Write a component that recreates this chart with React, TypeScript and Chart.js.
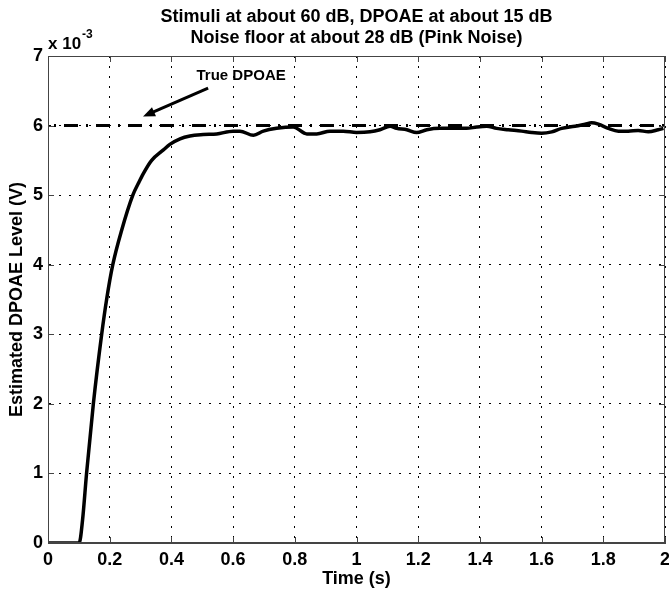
import React, { useEffect, useRef } from 'react';
import { Chart, registerables } from 'chart.js';

Chart.register(...registerables);

// ---- data (levels in units of 1e-3 V) ----
const timeS = [
  0, 0.05, 0.101, 0.112, 0.125, 0.147, 0.174, 0.19, 0.21, 0.239, 0.275, 0.293, 0.309, 0.336, 0.374, 0.395,
  0.428, 0.46, 0.503, 0.547, 0.6, 0.622, 0.666, 0.698, 0.741, 0.795, 0.839, 0.871, 0.914, 0.957, 1.0,
  1.044, 1.076, 1.109, 1.13, 1.163, 1.195, 1.228, 1.271, 1.314, 1.357, 1.39, 1.422, 1.454, 1.492, 1.535,
  1.568, 1.6, 1.633, 1.665, 1.708, 1.741, 1.762, 1.784, 1.816, 1.849, 1.881, 1.913, 1.946, 1.978, 1.995,
];
const levelMilli = [
  0, 0, 0, 0.33, 1, 2, 3, 3.5, 4, 4.5, 5, 5.17, 5.31, 5.5, 5.65, 5.73,
  5.81, 5.85, 5.87, 5.88, 5.92, 5.92, 5.86, 5.92, 5.96, 5.98, 5.88, 5.88, 5.92, 5.92, 5.9,
  5.91, 5.94, 5.99, 5.96, 5.94, 5.9, 5.94, 5.96, 5.96, 5.96, 5.98, 5.99, 5.96, 5.94, 5.92,
  5.9, 5.89, 5.91, 5.96, 5.99, 6.02, 6.04, 6.02, 5.96, 5.92, 5.92, 5.93, 5.91, 5.94, 5.96,
];
const trueLevel = 6;
const xRange = [0, 2];
const yRange = [0, 7];
const xStep = 0.2;
const yStep = 1;
const titleLines = [
  'Stimuli at about 60 dB, DPOAE at about 15 dB',
  'Noise floor at about 28 dB (Pink Noise)',
];
const xLabel = 'Time (s)';
const yLabel = 'Estimated DPOAE Level (V)';
const exponentBase = 'x 10';
const exponentPower = '-3';
const annotationText = 'True DPOAE';
const annotationTextAt = [0.626, 6.71];
const arrowFrom = [0.519, 6.54];
const arrowTo = [0.308, 6.13];

const FONT = '"Liberation Sans", Arial, Helvetica, sans-serif';

const matlabPlugin = {
  id: 'matlabDecor',
  afterDraw(chart: any) {
    const { ctx, chartArea: a, scales } = chart;
    const x = scales.x;
    const y = scales.y;
    ctx.save();
    // box
    ctx.strokeStyle = '#444';
    ctx.lineWidth = 1;
    ctx.strokeRect(Math.round(a.left) + 0.5, Math.round(a.top) + 0.5, Math.round(a.width) - 1, Math.round(a.height) - 1);
    // inward ticks
    const tl = 6;
    ctx.beginPath();
    x.ticks.forEach((t: any) => {
      const px = Math.round(x.getPixelForValue(t.value)) + 0.5;
      ctx.moveTo(px, a.bottom); ctx.lineTo(px, a.bottom - tl);
      ctx.moveTo(px, a.top); ctx.lineTo(px, a.top + tl);
    });
    y.ticks.forEach((t: any) => {
      const py = Math.round(y.getPixelForValue(t.value)) + 0.5;
      ctx.moveTo(a.left, py); ctx.lineTo(a.left + tl, py);
      ctx.moveTo(a.right, py); ctx.lineTo(a.right - tl, py);
    });
    ctx.stroke();

    ctx.fillStyle = '#000';
    // titles
    const cx = (a.left + a.right) / 2;
    ctx.font = `bold 18px ${FONT}`;
    ctx.textAlign = 'center';
    ctx.textBaseline = 'middle';
    ctx.fillText(titleLines[0], cx, a.top - 39);
    ctx.fillText(titleLines[1], cx, a.top - 18);
    // x label
    ctx.font = `bold 18px ${FONT}`;
    ctx.fillText(xLabel, cx, a.bottom + 36);
    // y label
    ctx.save();
    ctx.translate(17, (a.top + a.bottom) / 2);
    ctx.rotate(-Math.PI / 2);
    ctx.fillText(yLabel, 0, 0);
    ctx.restore();
    // exponent
    ctx.textAlign = 'left';
    ctx.font = `bold 17px ${FONT}`;
    ctx.fillText(exponentBase, a.left, a.top - 12);
    const w = ctx.measureText(exponentBase).width;
    ctx.font = `bold 12px ${FONT}`;
    ctx.fillText(exponentPower, a.left + w + 1, a.top - 21);

    // annotation
    ctx.font = `bold 15px ${FONT}`;
    ctx.textAlign = 'center';
    ctx.fillText(annotationText, x.getPixelForValue(annotationTextAt[0]), y.getPixelForValue(annotationTextAt[1]));
    const x1 = x.getPixelForValue(arrowFrom[0]);
    const y1 = y.getPixelForValue(arrowFrom[1]);
    const x2 = x.getPixelForValue(arrowTo[0]);
    const y2 = y.getPixelForValue(arrowTo[1]);
    const ang = Math.atan2(y2 - y1, x2 - x1);
    const hl = 12;
    const hw = 5;
    ctx.strokeStyle = '#000';
    ctx.lineWidth = 3;
    ctx.beginPath();
    ctx.moveTo(x1, y1);
    ctx.lineTo(x2 - Math.cos(ang) * hl * 0.8, y2 - Math.sin(ang) * hl * 0.8);
    ctx.stroke();
    ctx.beginPath();
    ctx.moveTo(x2, y2);
    ctx.lineTo(x2 - Math.cos(ang) * hl - Math.sin(ang) * hw, y2 - Math.sin(ang) * hl + Math.cos(ang) * hw);
    ctx.lineTo(x2 - Math.cos(ang) * hl + Math.sin(ang) * hw, y2 - Math.sin(ang) * hl - Math.cos(ang) * hw);
    ctx.closePath();
    ctx.fill();
    ctx.restore();
  },
};

export default function App() {
  const ref = useRef<HTMLCanvasElement | null>(null);
  useEffect(() => {
    if (!ref.current) return;
    const chart = new Chart(ref.current, {
      type: 'line',
      data: {
        datasets: [
          {
            label: 'Estimate',
            data: timeS.map((t, i) => ({ x: t, y: levelMilli[i] })),
            borderColor: '#000',
            borderWidth: 3.5,
            pointRadius: 0,
            cubicInterpolationMode: 'monotone',
            fill: false,
          },
          {
            label: 'True DPOAE',
            data: [
              { x: xRange[0], y: trueLevel },
              { x: xRange[1], y: trueLevel },
            ],
            borderColor: '#000',
            borderWidth: 3,
            borderDash: [14, 8, 2, 8],
            borderDashOffset: 16,
            pointRadius: 0,
            fill: false,
          },
        ],
      },
      options: {
        animation: false,
        responsive: false,
        devicePixelRatio: 1,
        layout: { padding: { top: 56, right: 4, left: 0, bottom: 0 } },
        plugins: {
          legend: { display: false },
          title: { display: false },
          tooltip: { enabled: false },
        },
        scales: {
          x: {
            type: 'linear',
            min: xRange[0],
            max: xRange[1],
            afterFit: (s: any) => { s.height = 48; s.paddingLeft = 0; s.paddingRight = 0; },
            ticks: {
              stepSize: xStep,
              color: '#000',
              padding: 6,
              maxRotation: 0,
              autoSkip: false,
              font: { family: FONT, size: 18, weight: 'bold' },
              callback: (v: any) => String(Math.round(Number(v) * 10) / 10),
            },
            grid: { color: '#000', lineWidth: 1, drawTicks: false },
            border: { display: true, color: '#444', width: 1, dash: [2, 8] },
          },
          y: {
            type: 'linear',
            min: yRange[0],
            max: yRange[1],
            afterFit: (s: any) => { s.width = 48; },
            ticks: {
              stepSize: yStep,
              color: '#000',
              padding: 5,
              font: { family: FONT, size: 18, weight: 'bold' },
              callback: (v: any) => String(Math.round(Number(v))),
            },
            grid: { color: '#000', lineWidth: 1, drawTicks: false },
            border: { display: true, color: '#444', width: 1, dash: [2, 8] },
          },
        },
      },
      plugins: [matlabPlugin],
    } as any);
    return () => chart.destroy();
  }, []);
  return (
    <div style={{ position: 'fixed', left: 0, top: 0, width: 669, height: 591, background: '#fff' }}>
      <canvas ref={ref} width={669} height={591} style={{ display: 'block' }} />
    </div>
  );
}
